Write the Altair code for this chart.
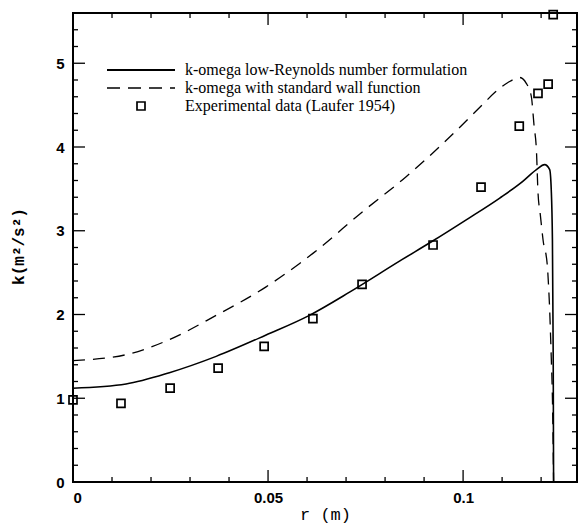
import altair as alt
import pandas as pd

# Experimental data (Laufer 1954)
r_exp = [0.0, 0.0123, 0.0249, 0.0372, 0.049, 0.0615, 0.0741, 0.0923, 0.1046, 0.1144, 0.1192, 0.1218, 0.1231]
k_exp = [0.98, 0.94, 1.12, 1.36, 1.62, 1.95, 2.36, 2.83, 3.52, 4.25, 4.64, 4.75, 5.58]

# k-omega low-Reynolds number formulation
r_lr = [0.0, 0.0136, 0.0247, 0.0367, 0.0495, 0.0606, 0.0710, 0.0838, 0.0923, 0.1008, 0.1094,
        0.1153, 0.1188, 0.1209, 0.1222, 0.1226, 0.1229, 0.1231, 0.1232]
k_lr = [1.12, 1.17, 1.305, 1.50, 1.755, 1.99, 2.27, 2.64, 2.88, 3.13, 3.39,
        3.59, 3.73, 3.79, 3.73, 3.49, 2.89, 1.5, 0.0]

# k-omega with standard wall function
r_wf = [0.0, 0.0136, 0.0247, 0.0367, 0.0495, 0.0581, 0.0615, 0.0743, 0.0854, 0.0957, 0.1055,
        0.1081, 0.1115, 0.1145, 0.1162, 0.1175, 0.1182, 0.1188, 0.1192, 0.1198, 0.1205,
        0.1216, 0.1219, 0.1222, 0.1224, 0.1226, 0.1229, 0.1232]
k_wf = [1.45, 1.52, 1.70, 1.99, 2.33, 2.61, 2.73, 3.23, 3.645, 4.08, 4.53,
        4.65, 4.77, 4.83, 4.76, 4.60, 4.25, 3.96, 3.46, 3.19, 2.89,
        2.58, 2.35, 2.05, 1.78, 1.49, 1.0, 0.0]

x_major = [0.0, 0.05, 0.1]
x_minor = [0.01, 0.02, 0.03, 0.04, 0.06, 0.07, 0.08, 0.09, 0.11, 0.12]
y_major = [0, 1, 2, 3, 4, 5]
y_minor = [round(i * 0.2, 1) for i in range(1, 28) if i % 5 != 0]

legend_labels = ["k-omega low-Reynolds number formulation",
                 "k-omega with standard wall function",
                 "Experimental data (Laufer 1954)"]

W, H = 504, 469
XDOM = [0, 0.1292]
YDOM = [0, 5.6]

xs = alt.Scale(domain=XDOM, nice=False, zero=False)
ys = alt.Scale(domain=YDOM, nice=False, zero=False)

df_exp = pd.DataFrame({"r": r_exp, "k": k_exp})
df_lr = pd.DataFrame({"r": r_lr, "k": k_lr, "o": range(len(r_lr))})
df_wf = pd.DataFrame({"r": r_wf, "k": k_wf, "o": range(len(r_wf))})

xaxis = alt.Axis(values=x_major, format="~g", title="r (m)", grid=False, domain=False,
                 ticks=False, labelFont="Liberation Sans", labelFontWeight="bold",
                 labelFontSize=15, labelPadding=8, labelColor="black",
                 titleFont="Liberation Mono", titleFontSize=17, titleFontWeight="normal",
                 titleColor="black", titleY=24, titleBaseline="top")
yaxis = alt.Axis(values=y_major, format="d", title="k(m²/s²)", grid=False, domain=False,
                 ticks=False, labelFont="Liberation Sans", labelFontWeight="bold",
                 labelFontSize=15, labelPadding=9, labelColor="black",
                 titleFont="Liberation Mono", titleFontSize=16, titleFontWeight="bold",
                 titleColor="black", titleX=-47, titleY=233)

line_lr = alt.Chart(df_lr).mark_line(color="black", strokeWidth=1.6, interpolate="monotone").encode(
    x=alt.X("r:Q", scale=xs, axis=xaxis),
    y=alt.Y("k:Q", scale=ys, axis=yaxis),
    order="o:Q")
line_wf = alt.Chart(df_wf).mark_line(color="black", strokeWidth=1.3, strokeDash=[12, 8],
                                     interpolate="monotone").encode(
    x=alt.X("r:Q", scale=xs), y=alt.Y("k:Q", scale=ys), order="o:Q")
pts = alt.Chart(df_exp).mark_point(shape="square", filled=False, color="black", size=64,
                                   strokeWidth=1.7, opacity=1).encode(
    x=alt.X("r:Q", scale=xs), y=alt.Y("k:Q", scale=ys))

def xticks(vals, length):
    d = pd.DataFrame({"v": vals})
    b = alt.Chart(d).mark_rule(color="black", strokeWidth=1.3).encode(
        x=alt.X("v:Q", scale=xs), y=alt.value(H), y2=alt.value(H - length))
    t = alt.Chart(d).mark_rule(color="black", strokeWidth=1.3).encode(
        x=alt.X("v:Q", scale=xs), y=alt.value(0), y2=alt.value(length))
    return [b, t]

def yticks(vals, length):
    d = pd.DataFrame({"v": vals})
    l = alt.Chart(d).mark_rule(color="black", strokeWidth=1.3).encode(
        y=alt.Y("v:Q", scale=ys), x=alt.value(0), x2=alt.value(length))
    r = alt.Chart(d).mark_rule(color="black", strokeWidth=1.3).encode(
        y=alt.Y("v:Q", scale=ys), x=alt.value(W), x2=alt.value(W - length))
    return [l, r]

ticks = xticks(x_major, 12) + xticks(x_minor, 5) + yticks(y_major, 12) + yticks(y_minor, 5)

one = pd.DataFrame({"a": [0]})
leg_solid = alt.Chart(one).mark_rule(color="black", strokeWidth=2).encode(
    x=alt.value(34), x2=alt.value(102), y=alt.value(57))
leg_dash = alt.Chart(one).mark_rule(color="black", strokeWidth=1.3, strokeDash=[13, 8]).encode(
    x=alt.value(34), x2=alt.value(102), y=alt.value(75))
leg_sq = alt.Chart(one).mark_point(shape="square", filled=False, color="black", size=64,
                                   strokeWidth=1.7, opacity=1).encode(
    x=alt.value(68), y=alt.value(93))
leg_text = []
for i, lab in enumerate(legend_labels):
    leg_text.append(alt.Chart(pd.DataFrame({"t": [lab]})).mark_text(
        align="left", baseline="middle", font="Liberation Serif", fontSize=16,
        color="black").encode(text="t:N", x=alt.value(112), y=alt.value(57 + 18 * i)))

chart = alt.layer(line_lr, line_wf, pts, *ticks, leg_solid, leg_dash, leg_sq, *leg_text).properties(
    width=W, height=H,
    autosize=alt.AutoSizeParams(type="none"),
    padding={"left": 73, "top": 13, "right": 1, "bottom": 42},
    background="white",
).configure_view(stroke="black", strokeWidth=2)

chart.save("out.html", embed_options={"renderer": "svg", "actions": False})
